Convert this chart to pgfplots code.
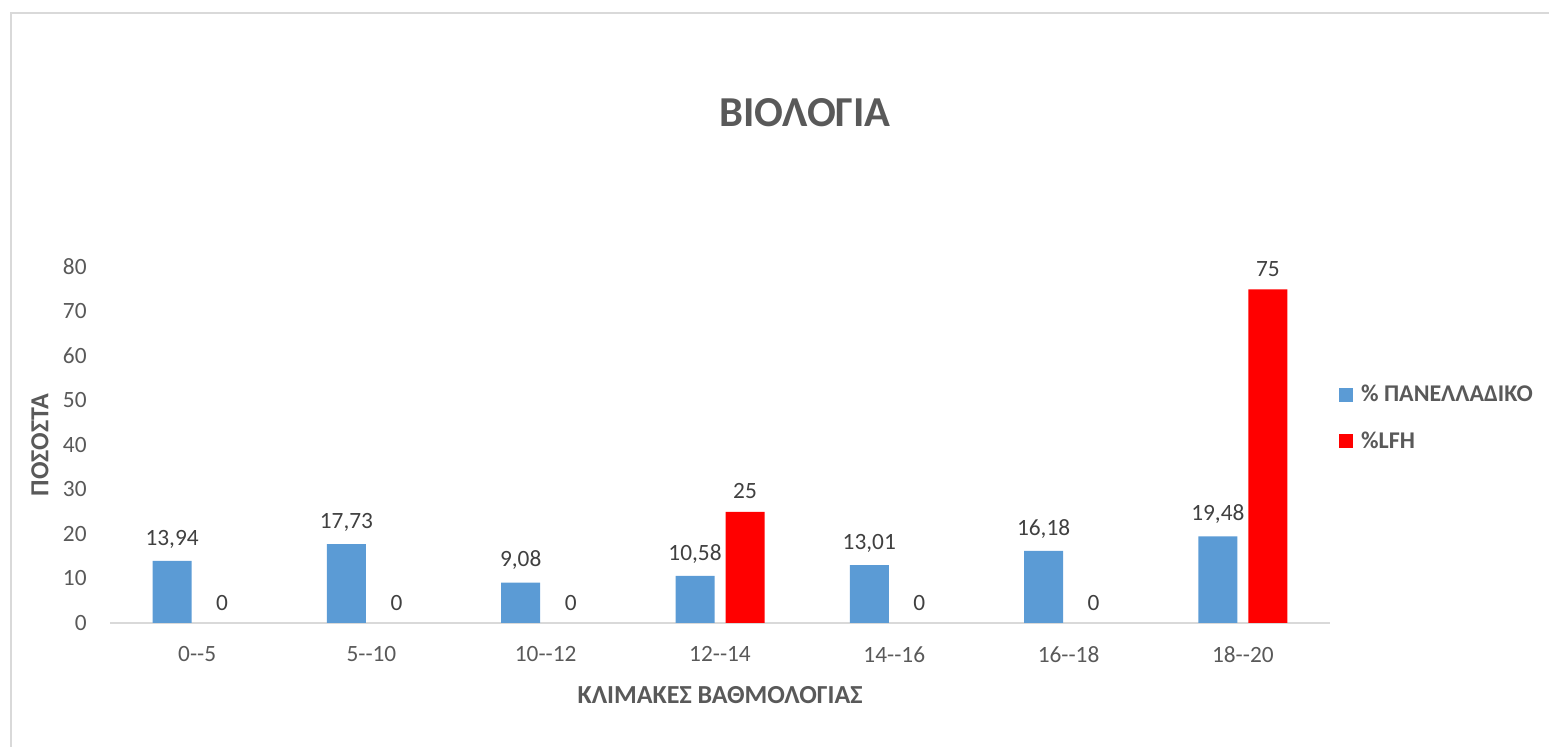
\documentclass[border=0pt]{standalone}
\usepackage{fontspec}
\setmainfont{Carlito}
\usepackage{pgfplots}
\pgfplotsset{compat=1.18}
\definecolor{cblue}{HTML}{5B9BD5}
\definecolor{cred}{HTML}{FF0000}
\definecolor{ctick}{HTML}{595959}
\definecolor{clab}{HTML}{404040}
\definecolor{cframe}{HTML}{D9D9D9}
\begin{document}
\begin{tikzpicture}
\useasboundingbox (0,0) rectangle (1161.75pt,559.5pt);
\draw[cframe, line width=1.1pt] (8.25pt,-2pt) -- (8.25pt,549.75pt) -- (1165pt,549.75pt);
\node[font=\fontsize{32}{36}\selectfont\bfseries, text=ctick] at (603.75pt,474.75pt) {ΒΙΟΛΟΓΙΑ};
\begin{axis}[
  at={(82.5pt,92.25pt)}, anchor=south west,
  scale only axis, width=915pt, height=267pt,
  ybar, bar width=29.25pt,
  xmin=-0.5, xmax=6.5, ymin=0, ymax=80,
  xtick={0,1,2,3,4,5,6},
  xticklabels={0-{}-5,5-{}-10,10-{}-12,12-{}-14,14-{}-16,16-{}-18,18-{}-20},
  ytick={0,10,...,80},
  axis x line*=bottom, axis y line*=left,
  x axis line style={draw=cframe, line width=1.1pt, -},
  y axis line style={draw=none},
  major tick length=0pt,
  tick label style={font=\fontsize{17.5}{20}\selectfont, text=ctick},
  /pgf/number format/assume math mode=true,
  xticklabel style={yshift=-14pt},
  yticklabel style={xshift=-14pt},
  xlabel={\bfseries ΚΛΙΜΑΚΕΣ ΒΑΘΜΟΛΟΓΙΑΣ},
  ylabel={\bfseries ΠΟΣΟΣΤΑ},
  label style={font=\fontsize{19.5}{22}\selectfont, text=ctick},
  xlabel style={yshift=-11pt},
  ylabel style={yshift=4pt},
  nodes near coords,
  every node near coord/.append style={font=\fontsize{17.5}{20}\selectfont, text=clab, yshift=6pt},
  /pgf/number format/.cd, use comma, fixed, precision=2, 1000 sep={},
  /pgfplots/.cd,
  legend style={draw=none, fill=none, at={(1.004,0.576)}, anchor=west,
    font=\fontsize{18}{21}\selectfont\bfseries, text=ctick, row sep=17pt,
    nodes={inner sep=2pt}},
  legend cell align=left,
  legend image code/.code={\fill[#1] (0pt,-5.25pt) rectangle (10.5pt,5.25pt);},
  /tikz/every odd column/.append style={column sep=4pt},
]
\addplot[fill=cblue, draw=none, bar shift=-18.75pt] coordinates {(0,13.94) (1,17.73) (2,9.08) (3,10.58) (4,13.01) (5,16.18) (6,19.48)};
\addlegendentry{\% ΠΑΝΕΛΛΑΔΙΚΟ}
\addplot[fill=cred, draw=none, bar shift=18.75pt] coordinates {(3,25) (6,75)};
\addlegendentry{\%LFH}
\addplot[fill=none, draw=none, bar shift=18.75pt, forget plot] coordinates {(0,0) (1,0) (2,0) (4,0) (5,0)};
\end{axis}
\end{tikzpicture}
\end{document}
